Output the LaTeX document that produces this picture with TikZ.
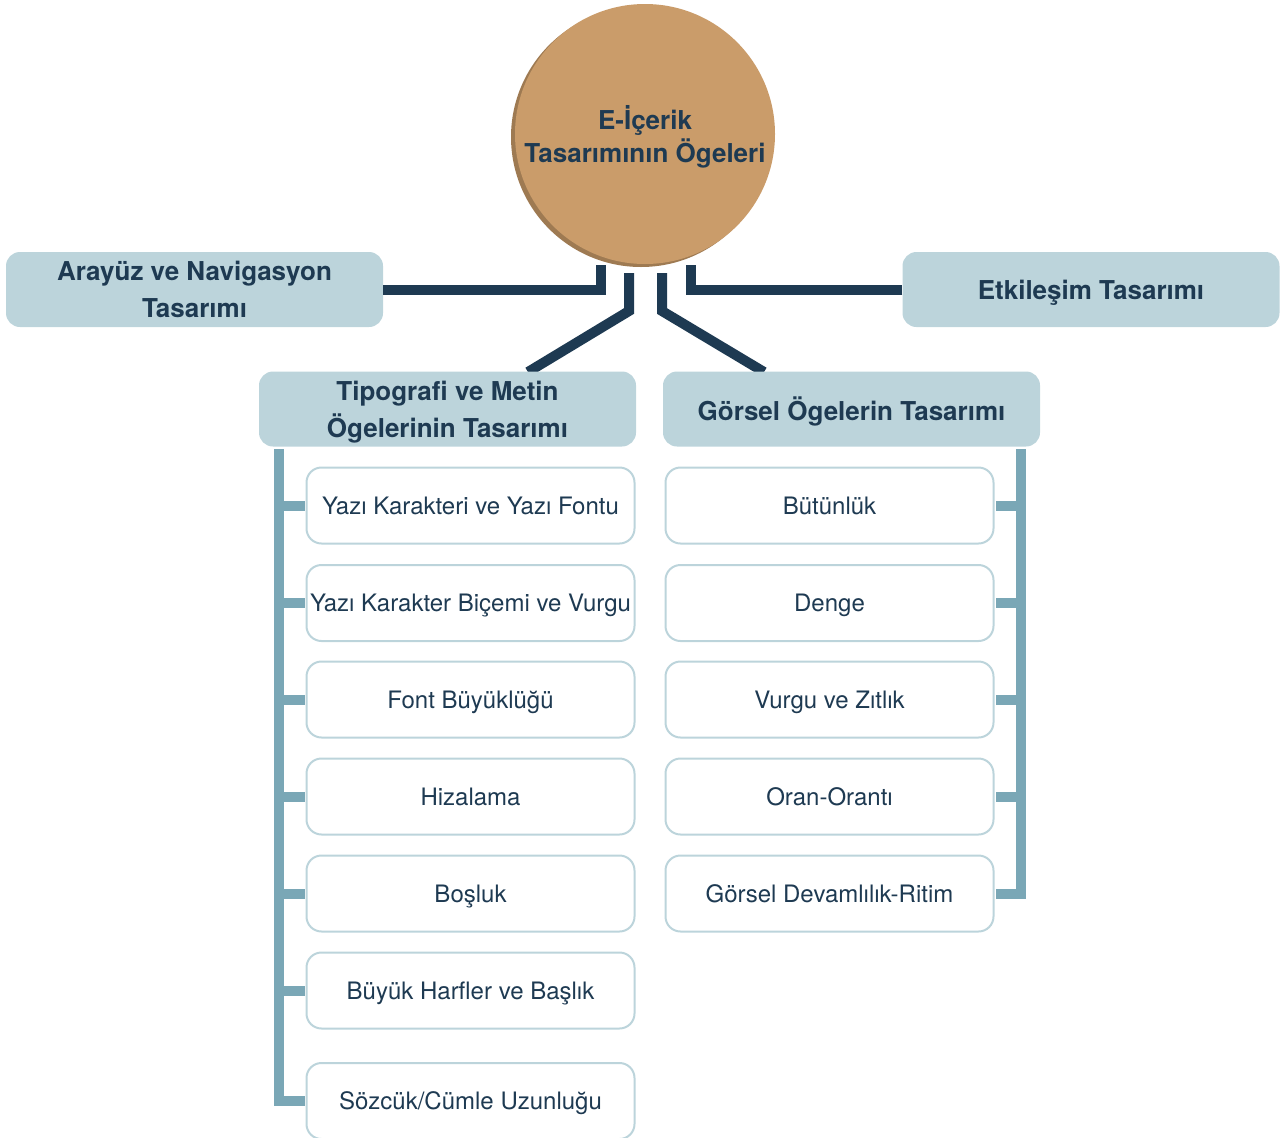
\documentclass[tikz,border=0pt]{standalone}
\usepackage{fontspec}
\setmainfont{TeX Gyre Heros}
\definecolor{navy}{HTML}{1E3A52}
\definecolor{headfill}{HTML}{BCD4DB}
\definecolor{barcol}{HTML}{7AA7B6}
\definecolor{itemline}{HTML}{BCD4DB}
\definecolor{circfill}{HTML}{CA9C6A}
\definecolor{circshade}{HTML}{9E7A52}
\begin{document}
\begin{tikzpicture}[x=1pt,y=-1pt,
  head/.style={fill=headfill,draw=none,rounded corners=14pt,minimum width=377pt,minimum height=75pt,inner sep=0pt,align=center,text=navy,text depth=-4pt,font=\fontsize{26}{37}\selectfont\bfseries},
  item/.style={fill=white,draw=itemline,line width=2pt,rounded corners=15pt,minimum width=328pt,minimum height=76pt,inner sep=0pt,align=center,text=navy,text depth=-4pt,font=\fontsize{24}{28}\selectfont},
  conn/.style={draw=navy,line width=10pt,line cap=butt,line join=miter},
  bar/.style={draw=barcol,line width=10pt,line cap=butt,line join=miter}]
\useasboundingbox (0,0) rectangle (1288,1138);
\clip (0,0) rectangle (1288,1138);

% circle with shade
\fill[circshade] (641,137) circle (130);
\node[circle,fill=circfill,minimum size=260pt,inner sep=0pt,align=center,text=navy,text depth=-2pt,font=\fontsize{26}{33}\selectfont\bfseries] (root) at (645,134) {E-İçerik\\Tasarımının Ögeleri};

% header boxes
\node[head] (arayuz) at (194.5,289.5) {Arayüz ve Navigasyon\\Tasarımı};
\node[head] (etk) at (1091,289.5) {Etkileşim Tasarımı};

% named connector points
\coordinate (cL1) at (601,265);
\coordinate (cL2) at (629,273);
\coordinate (cR2) at (662,273);
\coordinate (cR1) at (691,265);

\draw[conn] (arayuz.east) -- (arayuz.east -| cL1) -- (cL1);
\draw[conn] (etk.west) -- (etk.west -| cR1) -- (cR1);
\draw[conn] (cL2) -- (629,311) -- (528,372);
\draw[conn] (cR2) -- (662,311) -- (764,372);

\node[head] (tipo) at (447.5,409) {Tipografi ve Metin\\Ögelerinin Tasarımı};
\node[head] (gorsel) at (851.5,409) {Görsel Ögelerin Tasarımı};

% items left
\node[item] (t1) at (470.5,505.5) {Yazı Karakteri ve Yazı Fontu};
\node[item] (t2) at (470.5,603) {Yazı Karakter Biçemi ve Vurgu};
\node[item] (t3) at (470.5,699.5) {Font Büyüklüğü};
\node[item] (t4) at (470.5,796.5) {Hizalama};
\node[item] (t5) at (470.5,893.5) {Boşluk};
\node[item] (t6) at (470.5,990.5) {Büyük Harfler ve Başlık};
\node[item] (t7) at (470.5,1101) {Sözcük/Cümle Uzunluğu};

% items right
\node[item] (g1) at (829.5,505.5) {Bütünlük};
\node[item] (g2) at (829.5,603) {Denge};
\node[item] (g3) at (829.5,699.5) {Vurgu ve Zıtlık};
\node[item] (g4) at (829.5,796.5) {Oran-Orantı};
\node[item] (g5) at (829.5,893.5) {Görsel Devamlılık-Ritim};

% bars
\coordinate (barL) at (278.5,449);
\coordinate (barR) at (1020.5,449);
\draw[bar] (barL) -- (barL |- t7.west) -- ([xshift=-1pt]t7.west);
\foreach \n in {t1,t2,t3,t4,t5,t6}
  \draw[bar] ([xshift=4pt]barL |- \n.west) -- ([xshift=-1pt]\n.west);
\draw[bar] (barR) -- (barR |- g5.east) -- ([xshift=1pt]g5.east);
\foreach \n in {g1,g2,g3,g4}
  \draw[bar] ([xshift=-4pt]barR |- \n.east) -- ([xshift=1pt]\n.east);
\end{tikzpicture}
\end{document}
